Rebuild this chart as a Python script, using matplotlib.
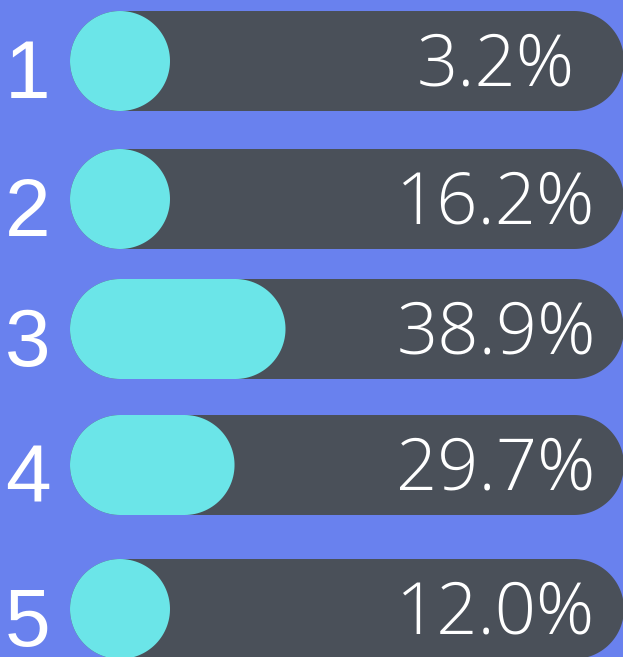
import matplotlib
matplotlib.use("Agg")
import numpy as np
import matplotlib.pyplot as plt
from matplotlib.patches import Polygon

# ---- data ----
categories = ["1", "2", "3", "4", "5"]
values = [3.2, 16.2, 38.9, 29.7, 12.0]
value_labels = ["3.2%", "16.2%", "38.9%", "29.7%", "12.0%"]

# ---- layout (pixels) ----
W, H = 623, 657
row_centers = [61, 199, 329, 465, 609]
track_x0, track_x1 = 70, 624
bar_h = 100
label_x = 28
value_x = 496

bg = "#6981EE"
track_col = "#4A5059"
fill_col = "#6BE5E8"


def stadium(x0, yc, w, h, n=60):
    r = h / 2
    t1 = np.linspace(np.pi / 2, 3 * np.pi / 2, n)   # left semicircle
    t2 = np.linspace(-np.pi / 2, np.pi / 2, n)      # right semicircle
    left = np.column_stack([x0 + r + r * np.cos(t1), yc + r * np.sin(t1)])
    right = np.column_stack([x0 + w - r + r * np.cos(t2), yc + r * np.sin(t2)])
    return np.vstack([left, right])


fig = plt.figure(figsize=(W / 100, H / 100), dpi=100, facecolor=bg)
ax = fig.add_axes([0, 0, 1, 1])
ax.set_facecolor(bg)
ax.set_xlim(0, W)
ax.set_ylim(H, 0)
ax.set_aspect("equal")
ax.axis("off")

track_w = track_x1 - track_x0
for cat, v, lab, yc in zip(categories, values, value_labels, row_centers):
    ax.add_patch(Polygon(stadium(track_x0, yc, track_w, bar_h),
                         closed=True, fc=track_col, ec="none", zorder=1))
    fw = max(v / 100 * track_w, bar_h)
    ax.add_patch(Polygon(stadium(track_x0, yc, fw, bar_h),
                         closed=True, fc=fill_col, ec="none", zorder=2))
    ax.text(label_x, yc + 37, cat, color="white", fontsize=59,
            family=["Liberation Sans", "DejaVu Sans"],
            ha="center", va="baseline", zorder=3)
    ax.text(value_x, yc + 25, lab, color="white", fontsize=52,
            family=["Open Sans", "DejaVu Sans"], fontweight="light",
            ha="center", va="baseline", zorder=3)

fig.savefig("out.png", dpi=100, facecolor=bg)
